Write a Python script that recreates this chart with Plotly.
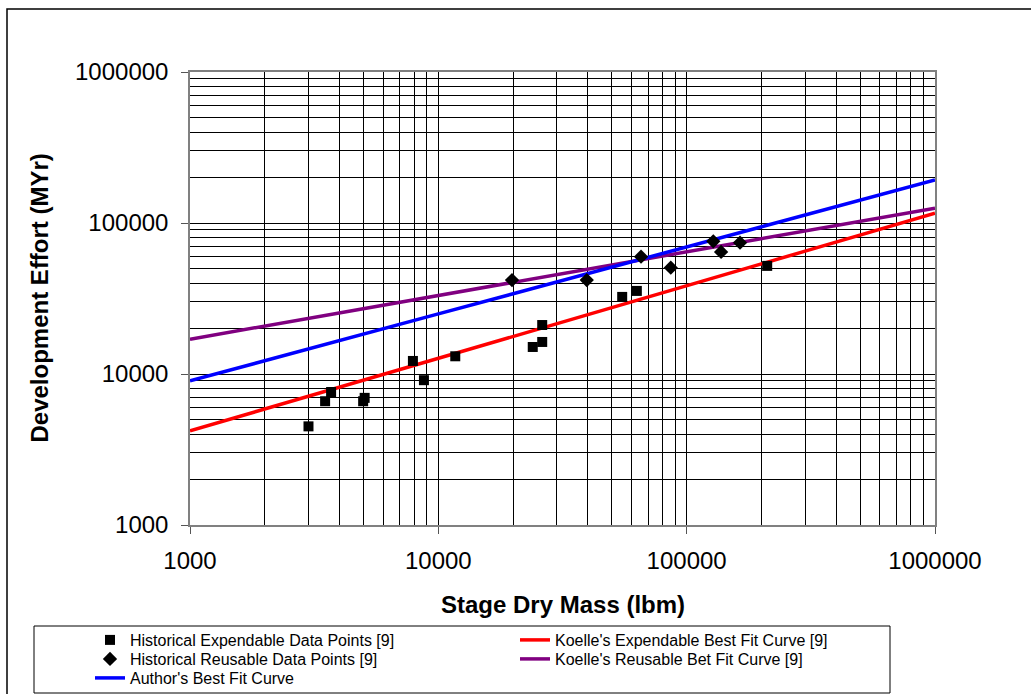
import plotly.graph_objects as go

# historical data points
exp_mass = [3000, 3500, 3700, 4980, 5050, 7900, 8750, 11700, 24000, 26200, 26200, 55000, 63000, 211000]
exp_effort = [4500, 6600, 7600, 6600, 6950, 12200, 9100, 13100, 15100, 21100, 16300, 32400, 35500, 52000]

reu_mass = [19800, 39600, 65500, 86300, 128000, 137600, 164000]
reu_effort = [41900, 41900, 59800, 50600, 75600, 64300, 74100]

# fit curves
curve_mass = [1000, 2000, 3000, 5000, 10000, 20000, 30000, 50000, 100000, 200000, 300000, 500000, 1000000]
koelle_exp = [4200, 5850, 7100, 9100, 12700, 17700, 21500, 27500, 38400, 53600, 65100, 83300, 116000]
koelle_reu = [17000, 20800, 23400, 27100, 33200, 40500, 45600, 52800, 64500, 78900, 88600, 102700, 125500]
author_fit = [9000, 12200, 14600, 18400, 25000, 34000, 40700, 51000, 69400, 94400, 113000, 141800, 192800]

x_ticks = [1000, 10000, 100000, 1000000]
y_ticks = [1000, 10000, 100000, 1000000]

W, H = 1031, 694
L, R, T, B = 190, 935, 72, 525
FONT = "Liberation Sans, Arial, sans-serif"


def px(x):
    return (x - L) / (R - L)


def py(y):
    return (B - y) / (B - T)


fig = go.Figure()

# lines first so the markers sit on top; each legend entry gets its own legend
# so the 2-column Excel layout can be placed by hand
fig.add_trace(go.Scatter(x=curve_mass, y=koelle_exp, mode="lines", name="Koelle's Expendable Best Fit Curve [9]",
                         line=dict(color="#ff0000", width=3.5), legend="legend2"))
fig.add_trace(go.Scatter(x=curve_mass, y=koelle_reu, mode="lines", name="Koelle's Reusable Bet Fit Curve [9]",
                         line=dict(color="#800080", width=3.5), legend="legend4"))
fig.add_trace(go.Scatter(x=curve_mass, y=author_fit, mode="lines", name="Author's Best Fit Curve",
                         line=dict(color="#0000ff", width=3.5), legend="legend5"))
fig.add_trace(go.Scatter(x=exp_mass, y=exp_effort, mode="markers", name="Historical Expendable Data Points [9]",
                         marker=dict(symbol="square", size=10, color="black"), legend="legend"))
fig.add_trace(go.Scatter(x=reu_mass, y=reu_effort, mode="markers", name="Historical Reusable Data Points [9]",
                         marker=dict(symbol="diamond", size=11, color="black"), legend="legend3"))
fig.update_traces(showlegend=True)

axis_common = dict(
    type="log",
    showgrid=True, gridcolor="#000000", gridwidth=1,
    showline=True, linecolor="#808080", linewidth=1.5, mirror=True,
    ticks="outside", ticklen=7, tickcolor="#555555",
    tickfont=dict(family=FONT, size=24, color="black"),
    minor=dict(dtick="D1", showgrid=True, gridcolor="#000000", gridwidth=1),
    zeroline=False,
)

fig.update_xaxes(axis_common, tickvals=x_ticks, ticktext=[str(v) for v in x_ticks],
                 range=[3, 6], ticklabelstandoff=6)
fig.update_yaxes(axis_common, tickvals=y_ticks, ticktext=[str(v) for v in y_ticks],
                 range=[3, 6], ticklabelstandoff=8)

# axis titles as annotations, placed where the Excel chart has them
fig.add_annotation(text="<b>Stage Dry Mass (lbm)</b>", xref="paper", yref="paper", x=0.5, y=py(604),
                   xanchor="center", yanchor="middle", showarrow=False,
                   font=dict(family=FONT, size=24, color="black"))
fig.add_annotation(text="<b>Development Effort (MYr)</b>", xref="paper", yref="paper", x=px(39), y=0.5,
                   xanchor="center", yanchor="middle", textangle=-90, showarrow=False,
                   font=dict(family=FONT, size=24, color="black"))

# chart frame and legend box
fig.add_shape(type="rect", xref="paper", yref="paper", x0=px(7), y0=py(9), x1=px(1060), y1=py(720),
              line=dict(color="black", width=1.5), fillcolor="rgba(0,0,0,0)", layer="below")
fig.add_shape(type="rect", xref="paper", yref="paper", x0=px(34), y0=py(626), x1=px(890), y1=py(693),
              line=dict(color="black", width=1), fillcolor="rgba(0,0,0,0)")

# legend slots: (item left x, row top y) in page pixels
slots = {"legend": (90, 623), "legend2": (515, 623), "legend3": (90, 642),
         "legend4": (515, 642), "legend5": (90, 661)}
legends = {}
for key, (lx, ly) in slots.items():
    legends[key] = dict(
        orientation="v", xref="container", yref="container",
        x=lx / W, y=1 - ly / H, xanchor="left", yanchor="top",
        font=dict(family=FONT, size=16, color="black"),
        bgcolor="rgba(0,0,0,0)", borderwidth=0, visible=True,
    )

fig.update_layout(
    width=W, height=H, showlegend=True,
    margin=dict(l=L, r=W - R, t=T, b=H - B, autoexpand=False),
    plot_bgcolor="white", paper_bgcolor="white",
    font=dict(family=FONT, color="black"),
    **legends,
)

fig.write_html("out.html", config={"displayModeBar": False},
               post_script="document.body.style.margin='0';document.body.style.overflow='hidden';")
